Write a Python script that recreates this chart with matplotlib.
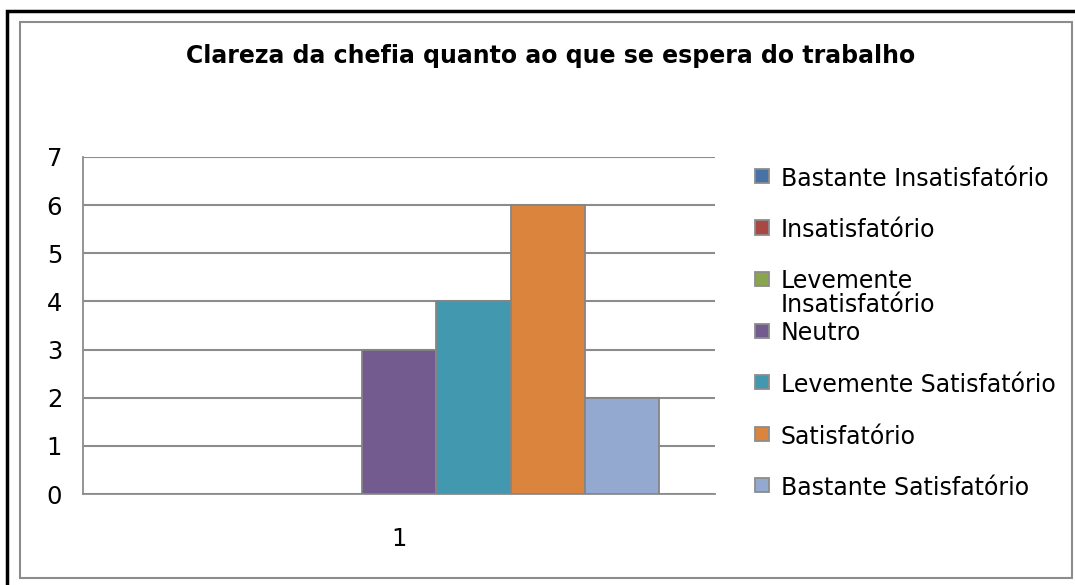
import matplotlib.pyplot as plt
from matplotlib.patches import Rectangle

plt.rcParams['font.family'] = ['DejaVu Sans']

# respostas por categoria
categorias = ['Bastante Insatisfatório', 'Insatisfatório', 'Levemente\nInsatisfatório',
              'Neutro', 'Levemente Satisfatório', 'Satisfatório', 'Bastante Satisfatório']
valores = [0, 0, 0, 3, 4, 6, 2]
cores = ['#4572A7', '#AA4643', '#89A54E', '#735A8F', '#4198AF', '#DB843D', '#93A9CF']
grupo = ['1']

fig = plt.figure(figsize=(10.75, 5.85), dpi=100)

# moldura externa preta e moldura cinza do gráfico
fig.patches.append(Rectangle((7 / 1075, -0.05), 1.1, 1 - 11 / 585 + 0.05,
                             transform=fig.transFigure, fill=False,
                             edgecolor='black', linewidth=2.5))
fig.patches.append(Rectangle((20 / 1075, 1 - 578 / 585), 1052 / 1075, 556 / 585,
                             transform=fig.transFigure, fill=False,
                             edgecolor='#8c8c8c', linewidth=1.5))

ax = fig.add_axes([83 / 1075, 1 - 494 / 585, 632 / 1075, 337 / 585])

n = len(valores)
largura = 1 / (n + 1.5)
for i, (v, c) in enumerate(zip(valores, cores)):
    x = 1 - n * largura / 2 + (i + 0.5) * largura
    if v > 0:
        ax.bar(x, v, width=largura, color=c, edgecolor='#858585', linewidth=1.3, zorder=3)

ax.set_xlim(0.5, 1.5)
ax.set_ylim(0, 7)
ax.set_yticks(range(8))
ax.set_xticks([1])
ax.set_xticklabels(grupo)
ax.tick_params(axis='both', length=0, labelsize=17.5)
ax.tick_params(axis='y', pad=15)
ax.tick_params(axis='x', pad=24)
ax.yaxis.grid(True, color='#8c8c8c', linewidth=1.5)
ax.set_axisbelow(True)
for s in ['top', 'right']:
    ax.spines[s].set_visible(False)
for s in ['left', 'bottom']:
    ax.spines[s].set_color('#8c8c8c')
    ax.spines[s].set_linewidth(1.3)

fig.text(551 / 1075, 1 - 56 / 585, 'Clareza da chefia quanto ao que se espera do trabalho',
         ha='center', va='center', fontsize=17, fontweight='bold')

# legenda desenhada à mão
y0, passo = 176, 51.5
for i, (rot, c) in enumerate(zip(categorias, cores)):
    yc = y0 + i * passo
    fig.patches.append(Rectangle((755 / 1075, 1 - (yc + 7) / 585), 14 / 1075, 14 / 585,
                                 transform=fig.transFigure, facecolor=c,
                                 edgecolor='#8c8c8c', linewidth=1.3))
    linhas = rot.split('\n')
    for j, l in enumerate(linhas):
        dy = 2 + j * 24 if len(linhas) > 1 else 3
        fig.text(781 / 1075, 1 - (yc + dy) / 585, l, ha='left', va='center', fontsize=17)

fig.savefig('out.png', dpi=100)
